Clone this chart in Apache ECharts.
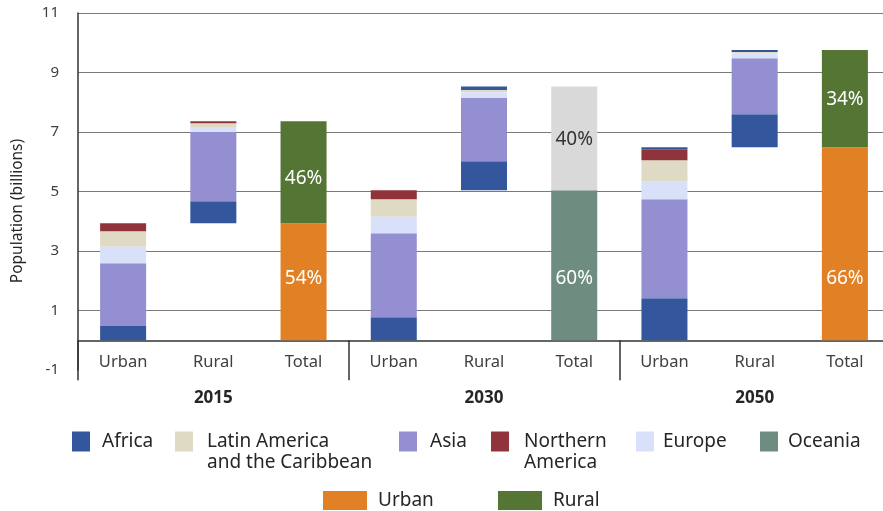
<!DOCTYPE html>
<html>
<head>
<meta charset="utf-8">
<script src="https://cdn.jsdelivr.net/npm/echarts@6/dist/echarts.min.js"></script>
<style>
  html, body { margin: 0; padding: 0; background: #fff; }
  #chart { width: 883px; height: 511px; }
</style>
</head>
<body>
<div id="chart"></div>
<script>
// categories on the x axis, grouped by year
const categories = ['Urban', 'Rural', 'Total', 'Urban', 'Rural', 'Total', 'Urban', 'Rural', 'Total'];
const years = ['2015', '2030', '2050'];

// population by region, billions ('-' = no bar). stacked bottom -> top
const africa  = [0.48, 0.74, '-', 0.77, 0.98, '-', 1.41, 1.11, '-'];
const asia    = [2.11, 2.33, '-', 2.83, 2.12, '-', 3.33, 1.88, '-'];
const europe  = [0.56, 0.14, '-', 0.56, 0.20, '-', 0.60, 0.17, '-'];
const latinAm = [0.51, 0.15, '-', 0.58, 0.07, '-', 0.71, 0.04, '-'];
const northAm = [0.27, 0.07, '-', 0.30, 0,    '-', 0.37, 0,    '-'];
const oceania = [0,    0,    '-', 0,    0.12, '-', 0.07, 0.07, '-'];

// shares printed on the total bars
const urbanShare = [54, 60, 66];
const ruralShare = [46, 40, 34];

const regionSeries = [
  { name: 'Africa', data: africa, color: '#33569c' },
  { name: 'Asia', data: asia, color: '#948fd0' },
  { name: 'Europe', data: europe, color: '#d9e0fa' },
  { name: 'Latin America and the Caribbean', data: latinAm, color: '#dedac4' },
  { name: 'Northern America', data: northAm, color: '#90343b' },
  { name: 'Oceania', data: oceania, color: '#6e8d80' }
];

function sumAt(i) {
  return regionSeries.reduce((s, r) => s + (r.data[i] === '-' ? 0 : r.data[i]), 0);
}
const urbanTotal = years.map((y, k) => +sumAt(k * 3).toFixed(2));
const ruralTotal = years.map((y, k) => +sumAt(k * 3 + 1).toFixed(2));

// invisible base lifting the rural bars onto the urban total
const offset = categories.map((c, i) => (i % 3 === 1 ? urbanTotal[(i - 1) / 3] : '-'));

const FONT = '"Noto Sans", sans-serif';

// the thin top slivers in the source use the Africa colour
const darkTop = [4, 6, 7];

const series = [{
  name: 'offset', type: 'bar', stack: 'pop', barWidth: '51%',
  itemStyle: { color: 'rgba(0,0,0,0)' }, silent: true, data: offset
}];

regionSeries.forEach(r => {
  series.push({
    name: r.name, type: 'bar', stack: 'pop', barWidth: '51%',
    itemStyle: { color: r.color },
    data: r.data.map((v, i) => (r.name === 'Oceania' && darkTop.includes(i))
      ? { value: v, itemStyle: { color: '#33569c' } } : v)
  });
});

const urbanLabelDy = [-3, 13, 35];
const ruralLabelDy = [6, 1, 1];

series.push({
  name: 'Urban', type: 'bar', stack: 'pop', barWidth: '51%',
  itemStyle: { color: '#e28025' },
  label: {
    show: true, position: 'inside', color: '#fff', fontFamily: FONT, fontSize: 19,
    formatter: p => urbanShare[Math.floor(p.dataIndex / 3)] + '%'
  },
  data: categories.map((c, i) => {
    if (i % 3 !== 2) return '-';
    const k = (i - 2) / 3;
    const item = { value: urbanTotal[k], label: { offset: [0, urbanLabelDy[k]] } };
    if (k === 1) item.itemStyle = { color: '#6e8d80' };
    return item;
  })
});

series.push({
  name: 'Rural', type: 'bar', stack: 'pop', barWidth: '51%',
  itemStyle: { color: '#557535' },
  label: {
    show: true, position: 'inside', color: '#fff', fontFamily: FONT, fontSize: 19,
    formatter: p => ruralShare[Math.floor(p.dataIndex / 3)] + '%'
  },
  data: categories.map((c, i) => {
    if (i % 3 !== 2) return '-';
    const k = (i - 2) / 3;
    const item = { value: ruralTotal[k], label: { offset: [0, ruralLabelDy[k]] } };
    if (k === 1) {
      item.itemStyle = { color: '#d9d9d9' };
      item.label.color = '#333';
    }
    return item;
  })
});

// legend placement (layout only)
const legendItems = [
  { name: 'Africa', left: 72, top: 431, gap: 7 },
  { name: 'Latin America and the Caribbean', left: 175, top: 410, gap: 9, two: true },
  { name: 'Asia', left: 399, top: 431, gap: 8 },
  { name: 'Northern America', left: 491, top: 410, gap: 10, two: true },
  { name: 'Europe', left: 636, top: 431, gap: 4 },
  { name: 'Oceania', left: 760, top: 431, gap: 5 },
  { name: 'Urban', left: 323, top: 490, gap: 6, wide: true },
  { name: 'Rural', left: 498, top: 490, gap: 6, wide: true }
];

const legend = legendItems.map(l => ({
  left: l.left, top: l.top, padding: 0, selectedMode: false,
  icon: 'rect', itemWidth: l.wide ? 44 : 18, itemHeight: l.wide ? 19 : 20,
  data: [l.name],
  // a leading blank line keeps the icon level with the first line of text
  formatter: n => n === 'Latin America and the Caribbean' ? '\nLatin America\nand the Caribbean'
    : n === 'Northern America' ? '\nNorthern\nAmerica' : n,
  textStyle: {
    fontFamily: FONT, fontSize: 19, color: '#262626', lineHeight: 21,
    padding: [0, 0, 0, l.gap]
  }
}));

const chart = echarts.init(document.getElementById('chart'));
chart.setOption({
  animation: false,
  legend: legend,
  grid: { left: 78, right: -7, top: 13, bottom: 141, containLabel: false, outerBoundsMode: 'none' },
  graphic: [{
    type: 'text', x: 18, y: 211, rotation: Math.PI / 2,
    style: {
      text: 'Population (billions)', fontFamily: FONT, fontSize: 15.5, fill: '#262626',
      align: 'center', verticalAlign: 'middle'
    }
  }],
  xAxis: [{
    type: 'category', data: categories, position: 'bottom',
    axisLine: { onZero: true, lineStyle: { color: '#333', width: 1.5 } },
    // separators between the year groups
    axisTick: { show: true, length: 40, interval: i => i % 3 === 0, lineStyle: { color: '#333', width: 1.5 } },
    axisLabel: { interval: 0, margin: -16, fontFamily: FONT, fontSize: 16.5, color: '#404040' }
  }, {
    type: 'category', data: years, position: 'bottom',
    axisLine: { show: false, onZero: false },
    axisTick: { show: false },
    axisLabel: { margin: 20, fontFamily: FONT, fontSize: 17, fontWeight: 'bold', color: '#262626' }
  }],
  yAxis: {
    type: 'value', min: -1, max: 11, interval: 2,
    axisLine: { show: true, lineStyle: { color: '#333', width: 1.5 } },
    axisTick: { show: false },
    axisLabel: { margin: 19, fontFamily: FONT, fontSize: 15, color: '#404040' },
    splitLine: { show: true, lineStyle: { width: 1, color: ['rgba(0,0,0,0)', '#7a7a7a', '#7a7a7a', '#7a7a7a', '#7a7a7a', '#7a7a7a', '#7a7a7a'] } }
  },
  series: series
});
</script>
</body>
</html>
